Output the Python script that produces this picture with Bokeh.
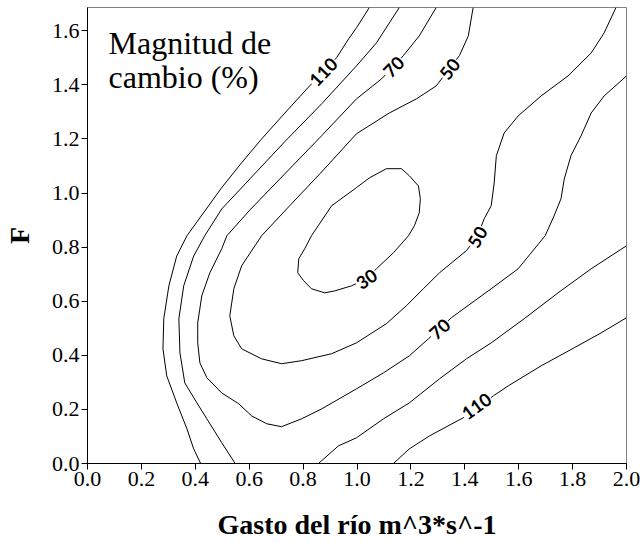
import math
from bokeh.plotting import figure
from bokeh.models import Range1d, FixedTicker, PrintfTickFormatter, Label
from bokeh.core.properties import value
from bokeh.embed import file_html
from bokeh.resources import INLINE

# ---- data (contour lines of "Magnitud de cambio (%)") ----
x_ticks = [0.0, 0.2, 0.4, 0.6, 0.8, 1.0, 1.2, 1.4, 1.6, 1.8, 2.0]
y_ticks = [0.0, 0.2, 0.4, 0.6, 0.8, 1.0, 1.2, 1.4, 1.6]

# level 110, upper-left branch
c110a_x = [0.420, 0.394, 0.369, 0.331, 0.294, 0.280, 0.283, 0.302, 0.331, 0.369,
           0.498, 0.572, 0.646, 0.746, 0.824, 0.924, 0.969, 0.998, 1.046]
c110a_y = [0.000, 0.054, 0.128, 0.224, 0.324, 0.424, 0.535, 0.657, 0.767, 0.842,
           1.020, 1.112, 1.200, 1.311, 1.396, 1.500, 1.570, 1.611, 1.686]
# level 110, lower-right branch
c110b_x = [1.135, 1.194, 1.269, 1.394, 1.506, 1.561, 1.683, 1.806, 1.906, 2.000]
c110b_y = [0.000, 0.054, 0.102, 0.169, 0.250, 0.287, 0.361, 0.428, 0.483, 0.539]

# level 90, upper-left branch
c90a_x = [0.548, 0.498, 0.443, 0.406, 0.361, 0.343, 0.339, 0.357, 0.394, 0.435,
          0.498, 0.606, 0.735, 0.869, 0.998, 1.072, 1.157]
c90a_y = [0.000, 0.077, 0.165, 0.224, 0.298, 0.409, 0.535, 0.657, 0.767, 0.842,
          0.941, 1.056, 1.193, 1.330, 1.470, 1.555, 1.686]
# level 90, lower-right branch
c90b_x = [0.857, 0.931, 0.998, 1.098, 1.194, 1.306, 1.406, 1.498, 1.620, 1.746, 1.869, 2.000]
c90b_y = [0.000, 0.065, 0.095, 0.165, 0.224, 0.313, 0.387, 0.446, 0.535, 0.631, 0.720, 0.805]

# level 70
c70_x = [1.294, 1.231, 1.172, 1.135, 1.091, 0.998, 0.869, 0.735, 0.606, 0.517,
         0.498, 0.454, 0.424, 0.409, 0.409, 0.417, 0.443, 0.498, 0.561, 0.609,
         0.665, 0.720, 0.794, 0.869, 0.998, 1.098, 1.194, 1.265, 1.306, 1.350,
         1.498, 1.598, 1.698, 1.731, 1.757, 1.769, 1.794, 1.831, 1.869, 1.917, 2.000]
c70_y = [1.686, 1.581, 1.508, 1.467, 1.422, 1.348, 1.212, 1.074, 0.941, 0.842,
         0.794, 0.705, 0.620, 0.520, 0.446, 0.372, 0.317, 0.261, 0.221, 0.176,
         0.147, 0.136, 0.165, 0.202, 0.276, 0.335, 0.398, 0.461, 0.498, 0.539,
         0.646, 0.720, 0.842, 0.915, 0.979, 1.052, 1.138, 1.211, 1.296, 1.359, 1.433]

# level 50
c50_x = [1.431, 1.413, 1.380, 1.343, 1.294, 1.220, 1.120, 0.998, 0.865, 0.754,
         0.646, 0.572, 0.543, 0.528, 0.543, 0.572, 0.646, 0.720, 0.794, 0.906,
         0.998, 1.109, 1.183, 1.246, 1.306, 1.406, 1.446, 1.472, 1.498, 1.509,
         1.517, 1.546, 1.598, 1.683, 1.783, 1.869, 1.917, 1.961]
c50_y = [1.686, 1.581, 1.508, 1.460, 1.396, 1.348, 1.296, 1.219, 1.074, 0.957,
         0.842, 0.731, 0.646, 0.546, 0.472, 0.424, 0.387, 0.369, 0.380, 0.406,
         0.446, 0.517, 0.583, 0.646, 0.705, 0.787, 0.838, 0.905, 0.953, 1.037,
         1.138, 1.222, 1.285, 1.359, 1.433, 1.518, 1.592, 1.686]

# level 30 (closed)
c30_x = [0.998, 1.046, 1.109, 1.165, 1.194, 1.228, 1.235, 1.231, 1.213, 1.191,
         1.135, 1.072, 1.035, 0.980, 0.917, 0.880, 0.831, 0.802, 0.780, 0.784,
         0.806, 0.831, 0.906, 0.998]
c30_y = [1.020, 1.056, 1.090, 1.090, 1.064, 1.026, 0.979, 0.927, 0.879, 0.842,
         0.779, 0.720, 0.683, 0.657, 0.638, 0.631, 0.646, 0.676, 0.705, 0.757,
         0.794, 0.842, 0.953, 1.020]

line_xs = [c110a_x, c110b_x, c90a_x, c90b_x, c70_x, c50_x, c30_x]
line_ys = [c110a_y, c110b_y, c90a_y, c90b_y, c70_y, c50_y, c30_y]

# contour labels
lab_text = ["110", "70", "50", "30", "50", "70", "110"]
lab_x = [0.874, 1.135, 1.343, 1.035, 1.446, 1.306, 1.443]
lab_y = [1.449, 1.467, 1.460, 0.683, 0.838, 0.498, 0.213]
lab_angle_deg = [46, 46, 52, 34, 60, 42, 36]

# ---- figure ----
SERIF = "Liberation Serif"

p = figure(width=644, height=542,
           x_range=Range1d(0.0, 2.0), y_range=Range1d(0.0, 1.686),
           output_backend="svg", toolbar_location=None,
           min_border_left=86, min_border_right=18,
           min_border_top=7, min_border_bottom=79)

p.background_fill_color = "white"
p.border_fill_color = "white"
p.outline_line_color = "#808080"
p.outline_line_width = 1
p.xgrid.visible = False
p.ygrid.visible = False

p.multi_line(xs=line_xs, ys=line_ys, line_color="black", line_width=1)

p.text(x=lab_x, y=lab_y, text=lab_text,
       angle=[math.radians(a) for a in lab_angle_deg],
       text_font=value("Lato"), text_font_style="bold", text_font_size="18px",
       text_color="black", text_align="center", text_baseline="middle",
       background_fill_color="white", padding=1)

for ax, ticks in ((p.xaxis[0], x_ticks), (p.yaxis[0], y_ticks)):
    ax.ticker = FixedTicker(ticks=ticks)
    ax.formatter = PrintfTickFormatter(format="%.1f")
    ax.minor_tick_line_color = None
    ax.major_tick_in = 0
    ax.major_tick_out = 6
    ax.axis_line_color = "black"
    ax.major_tick_line_color = "black"
    ax.major_label_text_font = SERIF
    ax.major_label_text_font_size = "22px"
    ax.major_label_text_color = "black"
    ax.axis_label_text_font = SERIF
    ax.axis_label_text_font_style = "bold"
    ax.axis_label_text_font_size = "28px"
    ax.axis_label_text_color = "black"

p.xaxis.axis_label = "Gasto del río m^3*s^-1"
p.yaxis.axis_label = "F"
p.xaxis.major_label_standoff = 2
p.yaxis.major_label_standoff = 2
p.xaxis.axis_label_standoff = 20
p.yaxis.axis_label_standoff = 14

p.add_layout(Label(x=0.078, y=1.553, text="Magnitud de", text_font=SERIF,
                   text_font_size="32px", text_color="black",
                   text_baseline="alphabetic"))
p.add_layout(Label(x=0.078, y=1.430, text="cambio (%)", text_font=SERIF,
                   text_font_size="32px", text_color="black",
                   text_baseline="alphabetic"))

open("out.html", "w").write(file_html(p, INLINE))
